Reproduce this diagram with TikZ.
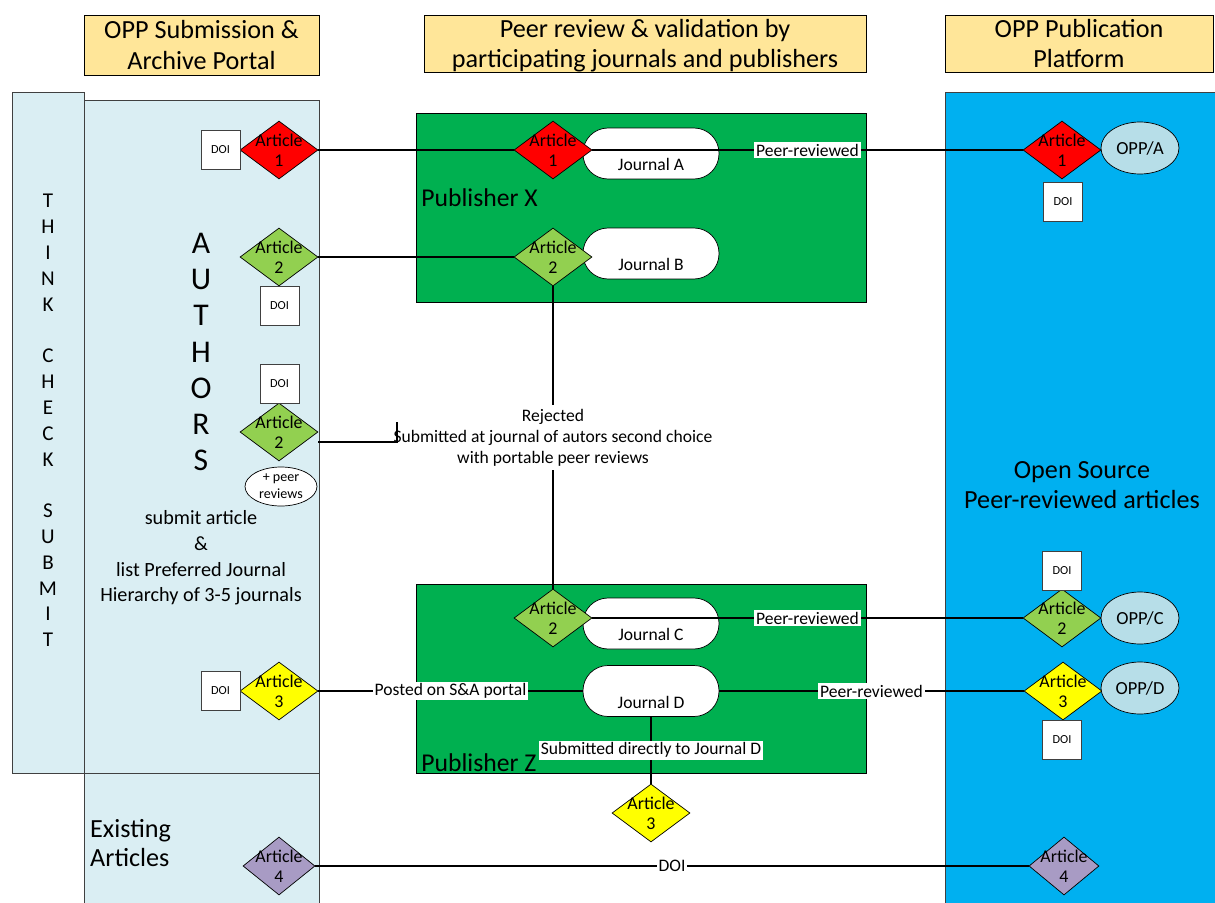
\documentclass[tikz,border=0pt]{standalone}
\usepackage{fontspec}
\setmainfont{Carlito}
\usetikzlibrary{shapes.geometric}

\definecolor{hdrfill}{HTML}{FFE699}
\definecolor{portal}{HTML}{DAEEF3}
\definecolor{platform}{HTML}{00B0F0}
\definecolor{pubgreen}{HTML}{00B050}
\definecolor{artred}{HTML}{FF0000}
\definecolor{artgreen}{HTML}{92D050}
\definecolor{artyellow}{HTML}{FFFF00}
\definecolor{artpurple}{HTML}{A89BC4}
\definecolor{oppfill}{HTML}{B7DEE8}
\definecolor{frame}{HTML}{404040}

\tikzset{
  header/.style = {draw=black, fill=hdrfill, align=center, text depth=0pt,
    font=\fontsize{14.9}{17.2}\selectfont, inner sep=0pt},
  article/.style = {diamond, draw=black, inner sep=0pt,
    minimum width=1.56cm, minimum height=1.16cm},
  arttext/.style = {align=center, font=\fontsize{10.2}{11.5}\selectfont},
  doibox/.style = {draw=frame, fill=white, minimum size=0.78cm, inner sep=0pt,
    font=\fontsize{7}{8}\selectfont},
  journal/.style = {draw=black, fill=white, rounded corners=0.5cm,
    minimum width=2.72cm, minimum height=1.02cm, inner sep=0pt},
  jtext/.style = {font=\fontsize{10}{12}\selectfont, yshift=-0.22cm},
  opp/.style = {ellipse, draw=black, fill=oppfill, minimum width=1.56cm,
    minimum height=1.04cm, inner sep=0pt, font=\fontsize{10.5}{12}\selectfont},
  onedge/.style = {fill=white, inner sep=1pt, font=\fontsize{10}{12}\selectfont},
  publisher/.style = {draw=black, fill=pubgreen, minimum width=9cm,
    minimum height=3.78cm, inner sep=0pt},
  pubname/.style = {anchor=west, inner sep=0pt, font=\fontsize{14.6}{17}\selectfont},
  bigtext/.style = {align=center, font=\fontsize{14.9}{17}\selectfont},
  link/.style = {line width=0.8pt}
}

\begin{document}
\begin{tikzpicture}[x=0.02cm, y=-0.02cm]
  \useasboundingbox (0,0) rectangle (1215,903);
  % columns
  \draw[frame, fill=portal] (12,92) rectangle (84,773);
  \draw[frame, fill=portal] (84,100) rectangle (319,773);
  \draw[frame, fill=portal] (84,773) rectangle (319,910);
  \draw[frame, fill=platform] (945,92) rectangle (1220,910);
  %
  \node[header, minimum width=4.7cm, minimum height=1.2cm] (hsub) at (201.5,45)
    {OPP Submission \&\\Archive Portal};
  \node[header, minimum width=8.84cm, minimum height=1.14cm] (hpeer) at (645,43.5)
    {Peer review \& validation by\\participating journals and publishers};
  \node[header, minimum width=5.36cm, minimum height=1.14cm] (hpub) at (1079,43.5)
    {OPP Publication\\Platform};
  %
  \node[align=center, font=\fontsize{12}{14.7}\selectfont] (tcs) at (48,420.5)
    {T\\H\\I\\N\\K\\\mbox{}\\C\\H\\E\\C\\K\\\mbox{}\\S\\U\\B\\M\\I\\T};
  \node[align=center, font=\fontsize{18}{20.6}\selectfont] (authors) at (201,352)
    {A\\U\\T\\H\\O\\R\\S};
  \node[align=center, font=\fontsize{11.5}{14.6}\selectfont] (howto) at (201,558)
    {submit article\\\&\\list Preferred Journal\\Hierarchy of 3-5 journals};
  \node[bigtext, anchor=west, align=left] (exist) at (84,843)
    {Existing\\Articles};
  \node[bigtext] (opensrc) at (1082,485)
    {Open Source\\Peer-reviewed articles};
  %
  \node[publisher] (pubx) at (641,207.5) {};
  \node[publisher] (pubz) at (641,678.5) {};
  \node[pubname] (pubxname) at (421,198) {Publisher X};
  \node[pubname] (pubzname) at (421,763) {Publisher Z};
  %
  \node[journal, label={[jtext]center:Journal A}] (ja) at (651,153.5) {};
  \node[journal, label={[jtext]center:Journal B}] (jb) at (651,253.5) {};
  \node[journal, label={[jtext]center:Journal C}] (jc) at (651,623.5) {};
  \node[journal, label={[jtext]center:Journal D}] (jd) at (651,691) {};
  %
  \node[article, fill=artred, label={[arttext]center:Article\\1}] (a1sub) at (279,150) {};
  \node[article, fill=artgreen, label={[arttext]center:Article\\2}] (a2sub) at (279,257) {};
  \node[article, fill=artgreen, label={[arttext]center:Article\\2}] (a2alt) at (279,432) {};
  \node[article, fill=artyellow, label={[arttext]center:Article\\3}] (a3sub) at (279,691) {};
  \node[article, fill=artpurple, minimum width=1.44cm, label={[arttext]center:Article\\4}] (a4sub) at (279,866) {};
  \node[article, fill=artred, label={[arttext]center:Article\\1}] (a1x) at (553,150) {};
  \node[article, fill=artgreen, label={[arttext]center:Article\\2}] (a2x) at (553,257) {};
  \node[article, fill=artgreen, label={[arttext]center:Article\\2}] (a2z) at (553,618) {};
  \node[article, fill=artyellow, label={[arttext]center:Article\\3}] (a3z) at (651,813) {};
  \node[article, fill=artred, label={[arttext]center:Article\\1}] (a1opp) at (1062,150) {};
  \node[article, fill=artgreen, label={[arttext]center:Article\\2}] (a2opp) at (1062,618) {};
  \node[article, fill=artyellow, label={[arttext]center:Article\\3}] (a3opp) at (1063,691) {};
  \node[article, fill=artpurple, minimum width=1.4cm, label={[arttext]center:Article\\4}] (a4opp) at (1064,866) {};
  %
  \node[doibox] (doi1) at (220.5,150) {DOI};
  \node[doibox] (doi2) at (279.5,306) {DOI};
  \node[doibox] (doi2alt) at (279.5,383.5) {DOI};
  \node[doibox] (doi3) at (220.5,690.5) {DOI};
  \node[doibox] (doi1opp) at (1063,201.5) {DOI};
  \node[doibox] (doi2opp) at (1062,570.5) {DOI};
  \node[doibox] (doi3opp) at (1062,739.5) {DOI};
  \node[ellipse, draw=black, fill=white, minimum width=1.44cm, minimum height=0.78cm,
    inner sep=0pt, align=center, font=\fontsize{8}{9.5}\selectfont] (reviews) at (281,486.5)
    {+ peer\\reviews};
  %
  \node[opp] (oppa) at (1140,148) {OPP/A};
  \node[opp] (oppc) at (1140,618) {OPP/C};
  \node[opp] (oppd) at (1140,688) {OPP/D};
  % connectors
  \draw[link] (a1sub) -- (a1x);
  \draw[link] (a1x) -- node[onedge] {Peer-reviewed} (a1opp);
  \draw[link] (a2sub) -- (a2x);
  \draw[link] (a2x) -- node[onedge, align=center, inner sep=2pt] (rejected)
    {Rejected\\Submitted at journal of autors second choice\\with portable peer reviews} (a2z);
  \coordinate (rejtip) at (397,422);
  \draw[link] ([yshift=-0.2cm]a2alt.east) -- ([yshift=-0.2cm]a2alt.east -| rejtip) -- (rejtip);
  \draw[link] (a2z) -- node[onedge] {Peer-reviewed} (a2opp);
  \draw[link] (a3sub) -- node[onedge] {Posted on S\&A portal} (jd);
  \draw[link] (jd) -- node[onedge] {Peer-reviewed} (a3opp);
  \draw[link] (jd) -- node[onedge] {Submitted directly to Journal D} (a3z);
  \draw[link] (a4sub) -- node[onedge] {DOI} (a4opp);
\end{tikzpicture}
\end{document}
